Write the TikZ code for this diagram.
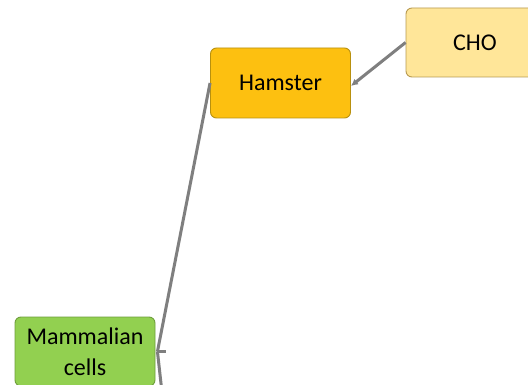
\documentclass[tikz,border=0pt]{standalone}
\usepackage{fontspec}
\setmainfont{Carlito}
\usetikzlibrary{arrows.meta}
\definecolor{hamfill}{HTML}{FDC010}
\definecolor{hamline}{HTML}{B8900E}
\definecolor{chofill}{HTML}{FFE699}
\definecolor{choline}{HTML}{B89A50}
\definecolor{mamfill}{HTML}{92D050}
\definecolor{mamline}{HTML}{6E9E3C}
\definecolor{linkgray}{HTML}{7F7F7F}
\tikzset{
  box/.style={draw, rounded corners=6pt, line width=0.9pt, minimum width=140pt,
    minimum height=70pt, inner sep=0pt, align=center,
    font=\fontsize{24}{31}\selectfont},
  link/.style={draw=linkgray, line width=3pt},
}
\begin{document}
\begin{tikzpicture}[x=1pt, y=-1pt]
  \useasboundingbox (0,0) rectangle (528,385);
  \fill[white] (0,0) rectangle (528,385);
  % boxes
  \node[box, fill=hamfill, draw=hamline] (ham) at (280.5,83) {Hamster};
  \node[box, fill=chofill, draw=choline, minimum height=69pt, minimum width=138pt] (cho) at (475,42.5) {CHO};
  \node[box, fill=mamfill, draw=mamline, minimum height=69pt] (mam) at (85,351.5) {Mammalian\\cells};
  % junction on the right side of the green box
  \coordinate (j) at ([xshift=2pt]mam.east);
  \coordinate (stub) at ([xshift=11pt]mam.east);
  \coordinate (below) at ([xshift=7pt,yshift=-45pt]mam.east);
  % connectors
  \draw[link, -{Latex[length=7pt,width=7pt]}] (cho.west) -- ([yshift=-3pt]ham.east);
  \draw[link] (ham.west) -- (j);
  \draw[link] (j) -- (stub);
  \draw[link] (j) -- (below);
\end{tikzpicture}
\end{document}
